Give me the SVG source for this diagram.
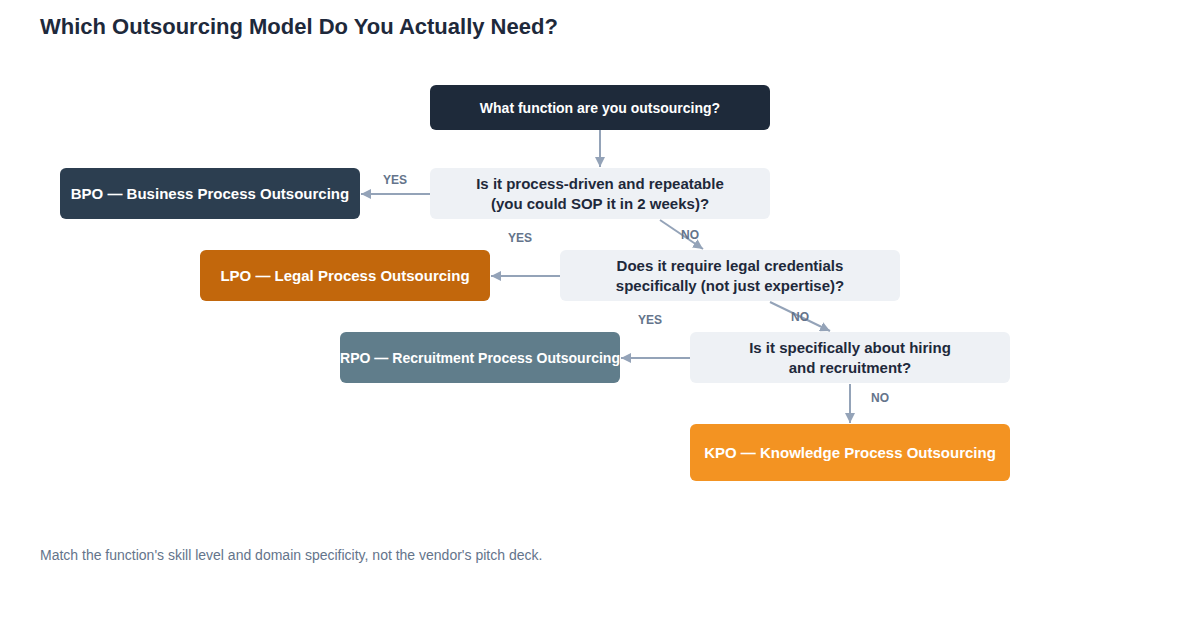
<svg xmlns="http://www.w3.org/2000/svg" width="1200" height="630" viewBox="0 0 1200 630">
<defs>
<marker id="arr" viewBox="0 0 10 10" refX="10" refY="5" markerWidth="10" markerHeight="10" markerUnits="userSpaceOnUse" orient="auto">
<path d="M0,0 L10,5 L0,10 z" fill="#94a3b8"/>
</marker>
<style>
text{font-family:"Liberation Sans",Arial,sans-serif}
.title{font-size:22px;font-weight:bold;fill:#1e293b}
.nt{font-size:15px;font-weight:bold;text-anchor:middle}
.s14{font-size:14px}
.w{fill:#ffffff}
.d{fill:#1e293b}
.q{fill:#eef1f5}
.lbl{font-size:12px;font-weight:bold;fill:#64748b;text-anchor:middle}
.edge{stroke:#94a3b8;stroke-width:2;fill:none;marker-end:url(#arr)}
.foot{font-size:14px;fill:#64748b}
</style>
</defs>
<rect width="1200" height="630" fill="#ffffff"/>
<text class="title" x="40" y="34">Which Outsourcing Model Do You Actually Need?</text>

<g id="connectors">
<line class="edge" x1="600" y1="130" x2="600" y2="167"/>
<line class="edge" x1="430" y1="194" x2="361" y2="194"/>
<line class="edge" x1="660" y1="220" x2="703" y2="249"/>
<line class="edge" x1="560" y1="276" x2="491" y2="276"/>
<line class="edge" x1="770" y1="302" x2="830" y2="331"/>
<line class="edge" x1="690" y1="358" x2="621" y2="358"/>
<line class="edge" x1="850" y1="384" x2="850" y2="423"/>
<text class="lbl" x="395" y="184">YES</text>
<text class="lbl" x="690" y="239">NO</text>
<text class="lbl" x="520" y="242">YES</text>
<text class="lbl" x="800" y="321">NO</text>
<text class="lbl" x="650" y="324">YES</text>
<text class="lbl" x="880" y="402">NO</text>
</g>

<g id="start">
<rect x="430" y="85" width="340" height="45" rx="6" fill="#1e2a3a"/>
<text class="nt s14 w" x="600" y="112.5">What function are you outsourcing?</text>
</g>
<g id="q1">
<rect x="430" y="168" width="340" height="51" rx="6" class="q"/>
<text class="nt d" x="600" y="189">Is it process-driven and repeatable</text>
<text class="nt d" x="600" y="209">(you could SOP it in 2 weeks)?</text>
</g>
<g id="bpo">
<rect x="60" y="168" width="300" height="51" rx="6" fill="#2c3e50"/>
<text class="nt w" x="210" y="199">BPO — Business Process Outsourcing</text>
</g>
<g id="q2">
<rect x="560" y="250" width="340" height="51" rx="6" class="q"/>
<text class="nt d" x="730" y="271">Does it require legal credentials</text>
<text class="nt d" x="730" y="291">specifically (not just expertise)?</text>
</g>
<g id="lpo">
<rect x="200" y="250" width="290" height="51" rx="6" fill="#c2670c"/>
<text class="nt w" x="345" y="281">LPO — Legal Process Outsourcing</text>
</g>
<g id="q3">
<rect x="690" y="332" width="320" height="51" rx="6" class="q"/>
<text class="nt d" x="850" y="353">Is it specifically about hiring</text>
<text class="nt d" x="850" y="373">and recruitment?</text>
</g>
<g id="rpo">
<rect x="340" y="332" width="280" height="51" rx="6" fill="#607d8b"/>
<text class="nt w" x="480" y="363" textLength="280" lengthAdjust="spacingAndGlyphs">RPO — Recruitment Process Outsourcing</text>
</g>
<g id="kpo">
<rect x="690" y="424" width="320" height="57" rx="6" fill="#f39322"/>
<text class="nt w" x="850" y="458">KPO — Knowledge Process Outsourcing</text>
</g>

<text class="foot" x="40" y="560">Match the function's skill level and domain specificity, not the vendor's pitch deck.</text>
</svg>
